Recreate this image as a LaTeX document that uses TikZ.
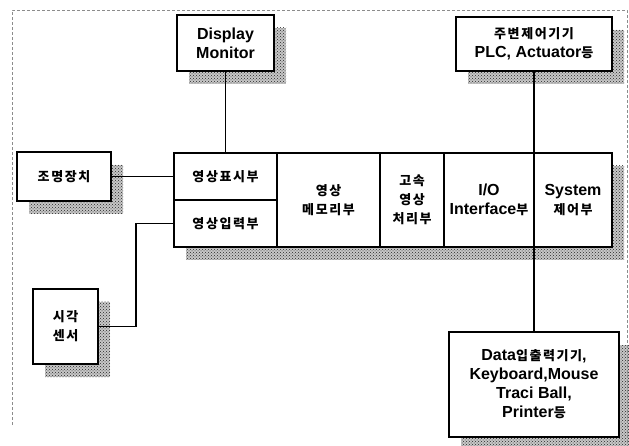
\documentclass[tikz,border=0pt]{standalone}
\usepackage{fontspec}
\setmainfont{Liberation Sans}
\newfontfamily\krfont{Noto Sans CJK KR}[LetterSpace=12]
\usetikzlibrary{positioning,fit,backgrounds,patterns}
\newcommand{\kr}[1]{{\krfont\fontsize{13}{19}\selectfont #1}}
\tikzset{
  box/.style={draw,line width=1.6pt,fill=white,align=center,inner sep=0pt,outer sep=0pt,
    anchor=north west,font=\bfseries\fontsize{16}{19}\selectfont},
  cell/.style={box,line width=1.4pt},
  wire/.style={line width=1.9pt},
  shade/.style={fill=black!22,postaction={pattern=crosshatch dots,pattern color=black!85}},
  frame/.style={black!45,densely dashed,line width=0.6pt},
}

\begin{document}
\begin{tikzpicture}[x=1pt,y=-1pt]
\useasboundingbox (0,0) rectangle (629,446);
\draw[frame] (12,425) -- (12,10) -- (627,10) -- (627,446);
% devices round the board
\node[box, minimum width=97pt, minimum height=56pt] (dm) at (177,15) {Display\\Monitor};
\node[box, minimum width=156pt, minimum height=54pt] (pe) at (456,17) {\kr{주변제어기기}\\PLC, Actuator\kr{등}};
\node[box, minimum width=94pt, minimum height=49pt] (lamp) at (17,152) {\kr{조명장치}};
\node[box, minimum width=65pt, minimum height=75pt] (cam) at (33,289) {\kr{시각}\\\kr{센서}};
\node[box, minimum width=170pt, minimum height=105pt] (data) at (449,332)
  {Data\kr{입출력기기},\\Keyboard,Mouse\\Traci Ball,\\Printer\kr{등}};
% board
\node[cell, minimum width=103pt, minimum height=47pt] (disp) at (174,153) {\kr{영상표시부}};
\node[cell, minimum width=103pt, minimum height=47pt] (inp) at (disp.south west) {\kr{영상입력부}};
\node[cell, minimum width=103pt, minimum height=94pt] (mem) at (disp.north east) {\kr{영상}\\\kr{메모리부}};
\node[cell, minimum width=64pt, minimum height=94pt] (proc) at (mem.north east) {\kr{고속}\\\kr{영상}\\\kr{처리부}};
\node[cell, minimum width=90pt, minimum height=94pt] (io) at (proc.north east) {I/O\\Interface\kr{부}};
\node[cell, minimum width=78pt, minimum height=94pt] (sys) at (io.north east) {System\\\kr{제어부}};
\node[fit=(disp)(inp)(sys), inner sep=0pt, outer sep=0pt] (core) {};
% shadows
\begin{scope}[on background layer]
\foreach \n in {dm,pe,lamp,cam,core,data}
  \fill[shade] ([shift={(12,13)}]\n.north west) rectangle ([shift={(12,13)}]\n.south east);
\end{scope}
% links
\draw[wire] (dm.south) -- (dm.south |- core.north);
\draw[wire] (pe.south) -- (pe.south |- data.north);
\draw[wire] (lamp) -- (disp);
\draw[wire] (cam.east) -- ++(38,0) |- (inp.west);
\end{tikzpicture}
\end{document}
